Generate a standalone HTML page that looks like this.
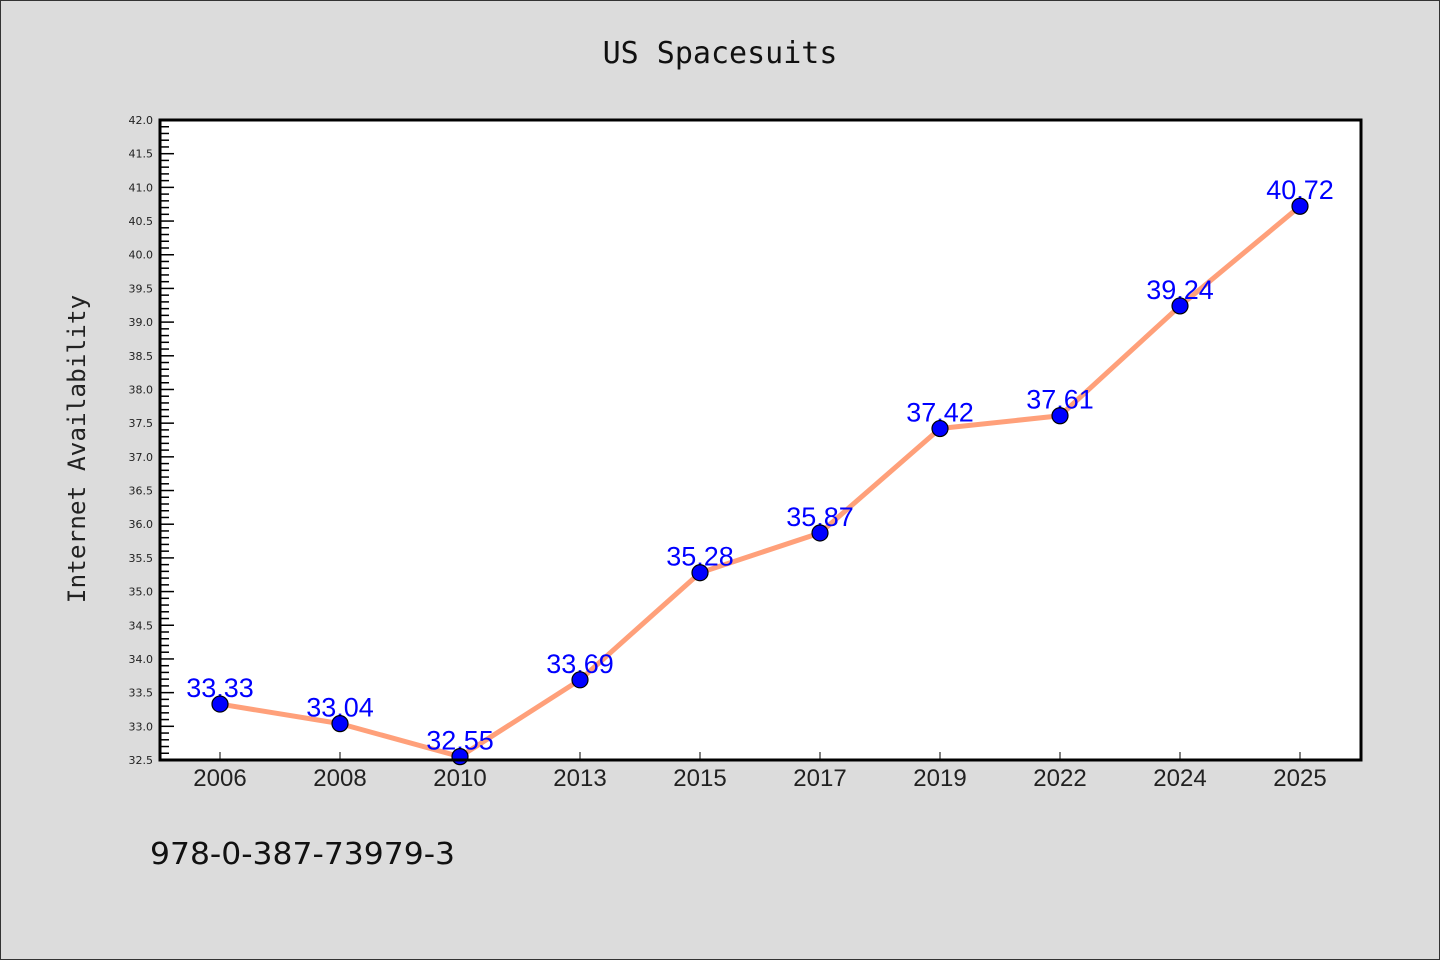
<!DOCTYPE html>
<html><head><meta charset="utf-8"><style>
html,body{margin:0;padding:0;background:#dcdcdc;}
svg{display:block;}
</style></head><body>
<svg id="chart" width="1440" height="960" xmlns="http://www.w3.org/2000/svg">
<rect x="0.5" y="0.5" width="1439" height="959" fill="#dcdcdc" stroke="#333"/>
<text x="720" y="63" text-anchor="middle" font-family="DejaVu Sans Mono, Liberation Mono, monospace" font-size="30" fill="#111">US Spacesuits</text>
<rect x="160" y="120" width="1201" height="640" fill="#fff"/>
<g id="yaxis"></g>
<g id="xaxis"></g>
<g id="series"></g>
<rect x="160" y="120" width="1201" height="640" fill="none" stroke="#000" stroke-width="3"/>
<text transform="translate(85,449) rotate(-90)" text-anchor="middle" font-family="DejaVu Sans Mono, Liberation Mono, monospace" font-size="24.4" fill="#222">Internet Availability</text>
<text x="150" y="864" font-family="DejaVu Sans, Liberation Sans, sans-serif" font-size="30" textLength="305" lengthAdjust="spacingAndGlyphs" fill="#111">978-0-387-73979-3</text>
</svg>
<script>
const categories=["2006","2008","2010","2013","2015","2017","2019","2022","2024","2025"];
const values=[33.33,33.04,32.55,33.69,35.28,35.87,37.42,37.61,39.24,40.72];
const yTicks=[32.5,33.0,33.5,34.0,34.5,35.0,35.5,36.0,36.5,37.0,37.5,38.0,38.5,39.0,39.5,40.0,40.5,41.0,41.5,42.0];
const NS="http://www.w3.org/2000/svg";
const yMin=32.5,yMax=42.0,plotTop=120,plotBot=760,plotLeft=160;
function yScale(v){return plotBot-(v-yMin)/(yMax-yMin)*(plotBot-plotTop);}
function xScale(i){return 220+i*120;}
function mk(tag,attrs,parent){const e=document.createElementNS(NS,tag);for(const k in attrs)e.setAttribute(k,attrs[k]);parent.appendChild(e);return e;}
const ya=document.getElementById('yaxis'),xa=document.getElementById('xaxis'),se=document.getElementById('series');
for(let k=0;k<=Math.round((yMax-yMin)*10);k++){
  const v=yMin+k*0.1;const major=k%5===0;
  const t=mk('line',{x1:plotLeft,x2:plotLeft+(major?14:9),y1:yScale(v),y2:yScale(v),stroke:'#000','stroke-width':1.5},ya);
  
  
}
yTicks.forEach(v=>{
  const t=mk('text',{x:153,y:yScale(v)+4,'text-anchor':'end','font-family':'DejaVu Sans, Liberation Sans, sans-serif','font-size':11,fill:'#222'},ya);
  t.textContent=v.toFixed(1);
  
  
});
categories.forEach((c,i)=>{
  const l=mk('line',{x1:xScale(i),x2:xScale(i),y1:plotBot,y2:plotBot-8,stroke:'#000','stroke-width':1},xa);
  
  
  const t=mk('text',{x:xScale(i),y:786,'text-anchor':'middle','font-family':'Liberation Sans, sans-serif','font-size':24,fill:'#222'},xa);
  t.textContent=c;
  
  
});
const pl=mk('polyline',{points:values.map((v,i)=>xScale(i)+','+yScale(v)).join(' '),fill:'none',stroke:'#ffa07a','stroke-width':5,'stroke-linejoin':'round'},se);


values.forEach((v,i)=>{
  const t=mk('text',{x:xScale(i),y:yScale(v)-7,'text-anchor':'middle','font-family':'Liberation Sans, sans-serif','font-size':27,fill:'#0000ff'},se);
  t.textContent=v.toFixed(2);
  
  
});
values.forEach((v,i)=>{
  const c=mk('circle',{cx:xScale(i),cy:yScale(v),r:8,fill:'#0000ff',stroke:'#000','stroke-width':1.2},se);
  
  
});
</script>
</body></html>
